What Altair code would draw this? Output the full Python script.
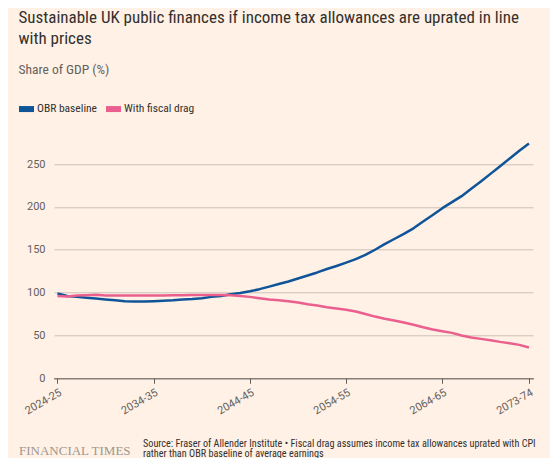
import altair as alt
import pandas as pd

# ---- data ----
years = list(range(2024, 2074))
obr_baseline = [99, 96, 95, 94, 93, 92, 91, 90, 89.5, 89.5,
                90, 90.5, 91, 92, 92.5, 93.5, 95, 96, 98, 99.5,
                101.5, 104, 107, 110, 113, 116.5, 120, 123.5, 127.5, 131,
                135, 139, 144, 150, 156.5, 162.5, 168.5, 175, 183, 190.5,
                198.5, 205.5, 212.5, 221, 229.5, 238.5, 247.5, 256.5, 265.5, 274]
fiscal_drag = [96, 95.5, 96.5, 97, 97.5, 96.5, 96.5, 96.5, 96.5, 96.5,
               96.5, 96.5, 97, 97, 97.2, 97.2, 97.2, 97.2, 97, 96,
               95, 93.5, 92, 91, 90, 88.5, 86.5, 85, 83, 81.5,
               80, 78, 75, 72, 69.5, 67.5, 65, 62.5, 59.5, 57,
               55, 53, 50, 47.5, 46, 44.5, 42.5, 41, 39, 36]
series_names = ["OBR baseline", "With fiscal drag"]
series_colors = ["#0f5499", "#eb5f8f"]
label_years = [2024, 2034, 2044, 2054, 2064, 2073]
y_ticks = [0, 50, 100, 150, 200, 250]

title_lines = ["Sustainable UK public finances if income tax allowances are uprated in line",
               "with prices"]
subtitle = "Share of GDP (%)"
source_lines = ["Source: Fraser of Allender Institute \u2022 Fiscal drag assumes income tax allowances uprated with CPI",
                "rather than OBR baseline of average earnings"]
logo = "FINANCIAL TIMES"

NARROW = "Liberation Sans Narrow, Roboto Condensed, DejaVu Sans Condensed, Roboto"

df = pd.DataFrame({
    "year": years * 2,
    "value": obr_baseline + fiscal_drag,
    "series": [series_names[0]] * len(years) + [series_names[1]] * len(years),
})

x_scale = alt.Scale(domain=[2023.64, 2073.42], nice=False, zero=False)
y_scale = alt.Scale(domain=[0, 280], nice=False)

lines = alt.Chart(df).mark_line(strokeWidth=2.5, strokeJoin="round").encode(
    x=alt.X("year:Q", scale=x_scale, title=None,
            axis=alt.Axis(values=label_years,
                          labelExpr="datum.value + '-' + ((datum.value + 1) % 100)",
                          labelAngle=-30, labelAlign="right", labelBaseline="top",
                          labelFont="Roboto", labelFontSize=11, labelColor="#66605c",
                          labelPadding=3, labelOverlap=False,
                          tickSize=5, tickColor="#66605c", tickWidth=1,
                          domainColor="#33302e", domainDash=[1, 1], domainWidth=1.5,
                          grid=False)),
    y=alt.Y("value:Q", scale=y_scale, title=None,
            axis=alt.Axis(values=y_ticks, labelFont="Roboto", labelFontSize=11,
                          labelColor="#66605c", labelPadding=9, ticks=False,
                          domain=False, grid=True, gridColor="#ccc1b7", gridWidth=1)),
    color=alt.Color("series:N",
                    scale=alt.Scale(domain=series_names, range=series_colors),
                    legend=alt.Legend(title=None, orient="none", legendX=-38, legendY=-40,
                                      direction="horizontal",
                                      symbolType="M-1,0H1", symbolSize=225,
                                      symbolStrokeWidth=6, symbolOpacity=1,
                                      labelFont=NARROW, labelFontSize=11.5, labelColor="#33302e",
                                      labelOffset=0, columnPadding=-3)),
)


def text_line(txt, x, y, font, size, color):
    return alt.Chart(pd.DataFrame({"t": [txt]})).mark_text(
        align="left", baseline="alphabetic", font=font, fontSize=size, color=color,
    ).encode(x=alt.value(x), y=alt.value(y), text="t:N")


layers = [lines]
layers.append(text_line(title_lines[0], -35.5, -115.3, NARROW, 17, "#33302e"))
layers.append(text_line(title_lines[1], -35.5, -94.5, NARROW, 17, "#33302e"))
layers.append(text_line(subtitle, -35.5, -64.5, NARROW, 13.5, "#66605c"))
layers.append(text_line(logo, -35, 316.5, "Liberation Serif", 13, "#9e978f"))
layers.append(text_line(source_lines[0], 89, 308.5, NARROW, 10.2, "#33302e"))
layers.append(text_line(source_lines[1], 89, 318.5, NARROW, 10.2, "#33302e"))

chart = alt.layer(*layers).properties(
    width=479, height=240,
    autosize=alt.AutoSizeParams(type="none"),
    padding={"left": 46, "top": 130.3, "right": 17, "bottom": 79.7},
    background="#fff1e5",
).configure_view(stroke=None)

chart.save("out.html", embed_options={"renderer": "svg", "actions": False})
